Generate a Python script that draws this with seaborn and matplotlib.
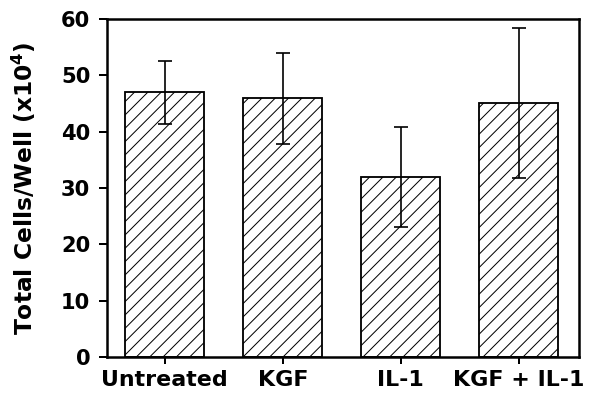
import pandas as pd
import matplotlib.pyplot as plt
import seaborn as sns

# ── Data ──────────────────────────────────────────────────────────────────────
TREATMENTS = ["Untreated", "KGF", "IL-1", "KGF + IL-1"]
CELLS = [47.0, 45.9, 32.0, 45.1]      # total cells/well (x10^4)
ERRORS = [5.6, 8.1, 8.9, 13.3]        # +/- error
Y_TICKS = [0, 10, 20, 30, 40, 50, 60]

# ── Style ─────────────────────────────────────────────────────────────────────
sns.set_theme(style="ticks")
plt.rcParams["font.family"] = ["DejaVu Sans"]
plt.rcParams["font.weight"] = "bold"
plt.rcParams["text.color"] = "black"
plt.rcParams["xtick.color"] = "black"
plt.rcParams["ytick.color"] = "black"
plt.rcParams["axes.labelcolor"] = "black"
plt.rcParams["hatch.linewidth"] = 0.6
plt.rcParams["hatch.color"] = "black"

df = pd.DataFrame({"Treatment": TREATMENTS, "Cells": CELLS})

fig = plt.figure(figsize=(5, 404 / 120), dpi=120)
ax = fig.add_axes([107 / 600, 47 / 404, 472 / 600, 338 / 404])

sns.barplot(data=df, x="Treatment", y="Cells", order=TREATMENTS,
            color="white", edgecolor="black", linewidth=1.1,
            width=0.67, errorbar=None, ax=ax, zorder=2)
for bar in ax.patches:
    bar.set_hatch("///")
    bar.set_facecolor("white")

ax.errorbar(range(len(TREATMENTS)), CELLS, yerr=ERRORS, fmt="none",
            ecolor="black", elinewidth=1.0, capsize=4, capthick=1.0, zorder=3)

ax.set_xlim(-0.49, 3.51)
ax.set_ylim(0, 60)
ax.set_yticks(Y_TICKS)
ax.set_xlabel("")
ax.set_ylabel("Total Cells/Well (x10$^{\\mathbf{4}}$)", fontsize=14, fontweight="bold",
              labelpad=14)
ax.tick_params(axis="y", direction="out", length=5, width=1.2, pad=5, labelsize=12.6)
ax.tick_params(axis="x", direction="out", length=4, width=1.2, pad=4, labelsize=13.3)
for lab in ax.get_xticklabels() + ax.get_yticklabels():
    lab.set_fontweight("bold")
for sp in ax.spines.values():
    sp.set_visible(True)
    sp.set_linewidth(1.5)
    sp.set_color("black")

fig.savefig("out.png", dpi=120, facecolor="white")
